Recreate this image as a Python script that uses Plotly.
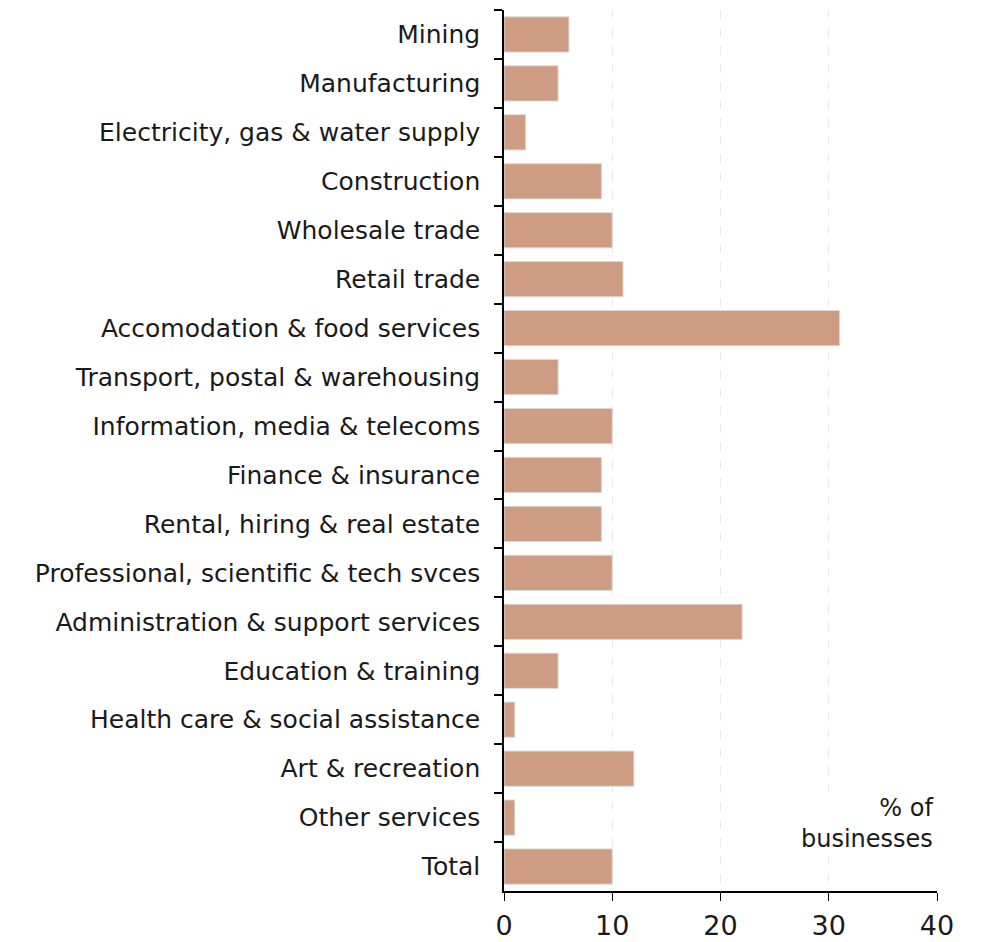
import plotly.graph_objects as go

categories = [
    "Mining", "Manufacturing", "Electricity, gas & water supply", "Construction",
    "Wholesale trade", "Retail trade", "Accomodation & food services",
    "Transport, postal & warehousing", "Information, media & telecoms",
    "Finance & insurance", "Rental, hiring & real estate",
    "Professional, scientific & tech svces", "Administration & support services",
    "Education & training", "Health care & social assistance", "Art & recreation",
    "Other services", "Total",
]
values = [6, 5, 2, 9, 10, 11, 31, 5, 10, 9, 9, 10, 22, 5, 1, 12, 1, 10]
x_ticks = [0, 10, 20, 30, 40]

FONT = "DejaVu Sans"

fig = go.Figure(go.Bar(
    y=categories, x=values, orientation="h",
    marker=dict(color="#CD9C82", line=dict(color="#DADADA", width=1)),
    width=0.72,
))

fig.update_layout(
    width=977, height=934,
    margin=dict(l=496, r=48, t=2, b=51),
    plot_bgcolor="white", paper_bgcolor="white",
    showlegend=False,
    font=dict(family=FONT, color="#1a1a1a"),
    xaxis=dict(
        range=[0, 40], tickvals=x_ticks, ticks="outside", ticklen=8,
        tickcolor="black", showline=True, linecolor="black", linewidth=1.5,
        showgrid=True, gridcolor="#EBEBEB", griddash="dash", gridwidth=1,
        zeroline=False, tickfont=dict(size=27, family=FONT),
        ticklabelstandoff=2,
    ),
    yaxis=dict(
        categoryorder="array", categoryarray=categories, autorange="reversed",
        ticks="outside", tickson="boundaries", ticklen=8, tickcolor="black",
        tickwidth=1.5,
        showline=True, linecolor="black", linewidth=1.5, showgrid=False,
        tickfont=dict(size=25, family=FONT), ticklabelstandoff=17,
    ),
    annotations=[dict(
        text="% of<br>businesses", xref="paper", yref="paper",
        x=0.995, y=0.112, xanchor="right", yanchor="top", align="right",
        showarrow=False, bgcolor="white", font=dict(size=24, family=FONT),
    )],
)

fig.write_html("out.html")
